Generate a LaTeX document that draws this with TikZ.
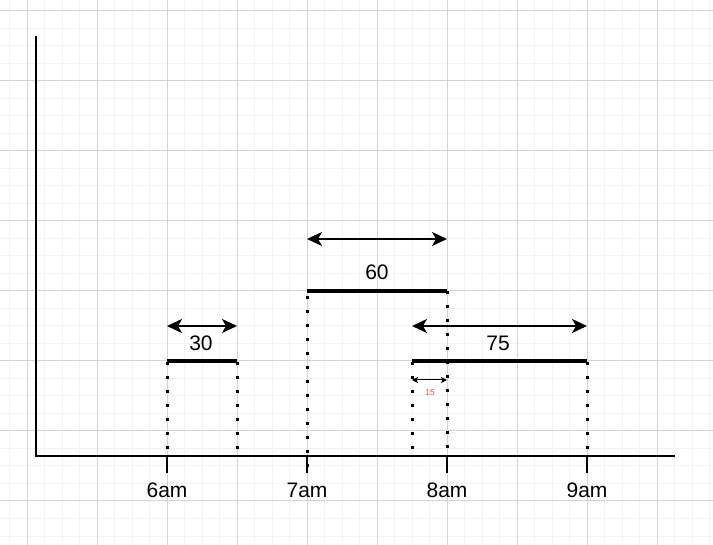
\documentclass[tikz,border=0pt]{standalone}
\usepackage{fontspec}
\setmainfont{Liberation Sans}
\usetikzlibrary{arrows.meta}
\definecolor{minorc}{RGB}{243,243,243}
\definecolor{majorc}{RGB}{212,212,212}
\definecolor{smallred}{RGB}{226,80,80}
\begin{document}
\begin{tikzpicture}[x=1pt,y=-1pt,
  minorgrid/.style={draw=minorc, line width=1pt},
  majorgrid/.style={draw=majorc, line width=1pt},
  axis/.style={line width=2pt},
  bar/.style={line width=4.5pt},
  dotline/.style={line width=3pt, dash pattern=on 3pt off 11pt},
  dimarrow/.style={line width=1.5pt, {Stealth[length=15pt,width=14pt,inset=4pt]}-{Stealth[length=15pt,width=14pt,inset=4pt]}},
  smallarrow/.style={line width=1pt, {Stealth[length=6pt,width=6pt,inset=1.5pt]}-{Stealth[length=6pt,width=6pt,inset=1.5pt]}},
  lbl/.style={font=\fontsize{21}{21}\selectfont, inner sep=0pt},
  smalllbl/.style={font=\fontsize{8.5}{8.5}\selectfont, inner sep=0pt, text=smallred}]

\useasboundingbox (0,0) rectangle (713,545);
\fill[white] (0,0) rectangle (713,545);
% grid
\foreach \i in {0,...,40} \draw[minorgrid] ({9.5+17.5*\i},0) -- ({9.5+17.5*\i},545);
\foreach \i in {0,...,31} \draw[minorgrid] (0,{-6.5+17.5*\i}) -- (713,{-6.5+17.5*\i});
\foreach \i in {0,...,9} \draw[majorgrid] ({27+70*\i},0) -- ({27+70*\i},545);
\foreach \i in {0,...,7} \draw[majorgrid] (0,{11+70*\i}) -- (713,{11+70*\i});

% axes
\coordinate (ytop) at (36,36);
\coordinate (O) at (36,456);
\coordinate (xend) at (675,456);
\draw[axis] (ytop) -- (O) -- (xend);

% ticks and labels
\foreach \x/\n/\t in {167/six/6am, 307/seven/7am, 447/eight/8am, 587/nine/9am} {
  \coordinate (tick\n) at (\x,456);
  \coordinate (tickend\n) at (\x,473);
  \draw[axis] (tick\n) -- (tickend\n);
  \node[lbl] (label\n) at (\x,490) {\t};
}

% bar 30
\coordinate (a1) at (167,361);
\coordinate (a2) at (237,361);
\coordinate (a1b) at (167,456);
\coordinate (a2b) at (237,456);
\draw[dotline, dash phase=13pt] (a1) -- (a1b);
\draw[dotline, dash phase=13pt] (a2) -- (a2b);
\draw[bar] (a1) -- (a2);
\coordinate (aa1) at (167,326);
\coordinate (aa2) at (237,326);
\draw[dimarrow] (aa1) -- (aa2);
\node[lbl] (thirty) at (201,343) {30};

% bar 60
\coordinate (b1) at (307,291);
\coordinate (b2) at (447,291);
\coordinate (b1b) at (307,467);
\coordinate (b2b) at (447,456);
\draw[dotline, dash phase=9pt] (b1) -- (b1b);
\draw[dotline] (b2) -- (b2b);
\draw[bar] (b1) -- (b2);
\coordinate (ba1) at (307,239);
\coordinate (ba2) at (447,239);
\draw[dimarrow] (ba1) -- (ba2);
\node[lbl] (sixty) at (377,272) {60};

% bar 75
\coordinate (c1) at (412,361);
\coordinate (c2) at (587,361);
\coordinate (c1b) at (412,456);
\coordinate (c2b) at (587,456);
\draw[dotline, dash phase=13pt] (c1) -- (c1b);
\draw[dotline, dash phase=13pt] (c2) -- (c2b);
\draw[bar] (c1) -- (c2);
\coordinate (ca1) at (412,326);
\coordinate (ca2) at (587,326);
\draw[dimarrow] (ca1) -- (ca2);
\node[lbl] (seventyfive) at (498,343) {75};

% overlap 15
\coordinate (d1) at (412,380);
\coordinate (d2) at (447,380);
\draw[smallarrow] (d1) -- (d2);
\node[smalllbl] (fifteen) at (430,393) {15};
\end{tikzpicture}
\end{document}
